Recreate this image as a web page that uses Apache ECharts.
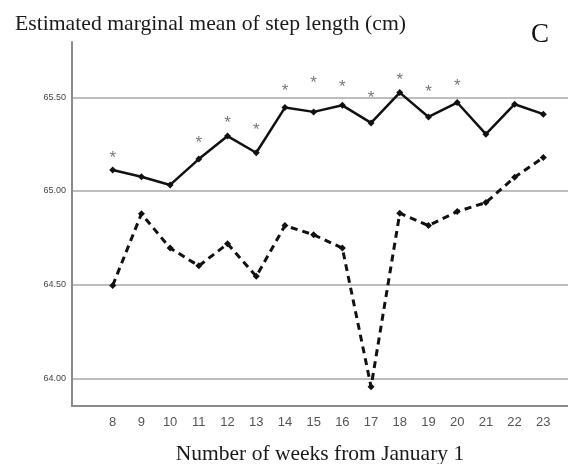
<!DOCTYPE html>
<html>
<head>
<meta charset="utf-8">
<script src="https://cdn.jsdelivr.net/npm/echarts@6/dist/echarts.min.js"></script>
<style>
html,body{margin:0;padding:0;background:#fff;}
#chart{width:568px;height:464px;}
</style>
</head>
<body>
<div id="chart"></div>
<script>
var weeks = [8, 9, 10, 11, 12, 13, 14, 15, 16, 17, 18, 19, 20, 21, 22, 23];
var solidValues = [65.112, 65.076, 65.032, 65.170, 65.293, 65.204, 65.445, 65.422, 65.457, 65.363, 65.525, 65.395, 65.472, 65.303, 65.463, 65.410];
var dashedValues = [64.495, 64.878, 64.695, 64.600, 64.718, 64.544, 64.815, 64.766, 64.695, 63.955, 64.881, 64.815, 64.890, 64.938, 65.073, 65.179];
var starWeeks = [8, 11, 12, 13, 14, 15, 16, 17, 18, 19, 20];
var starValues = [65.202, 65.282, 65.388, 65.351, 65.559, 65.601, 65.580, 65.521, 65.617, 65.553, 65.585];
var yTicks = [64.00, 64.50, 65.00, 65.50];

function pairs(xs, ys) { return xs.map(function (x, i) { return [x, ys[i]]; }); }

var chart = echarts.init(document.getElementById('chart'), null, {renderer: 'canvas'});
chart.setOption({
  animation: false,
  backgroundColor: '#ffffff',
  title: [
    {text: 'Estimated marginal mean of step length (cm)', left: 10, top: 8,
     textStyle: {fontFamily: 'Liberation Serif', fontSize: 21.7, fontWeight: 'normal', color: '#1a1a1a'}},
    {text: 'C', left: 526, top: 16,
     textStyle: {fontFamily: 'Liberation Serif', fontSize: 27, fontWeight: 'normal', color: '#111'}}
  ],
  grid: {left: 72, right: 0, top: 42, bottom: 58, containLabel: false, outerBoundsMode: 'none'},
  xAxis: {
    type: 'value', min: 6.582, max: 23.86,
    name: 'Number of weeks from January 1', nameLocation: 'middle', nameGap: 37,
    nameTextStyle: {fontFamily: 'Liberation Serif', fontSize: 21.5, color: '#1a1a1a'},
    axisLine: {show: true, lineStyle: {color: '#8a8a8a', width: 2}},
    axisTick: {show: false, customValues: weeks},
    axisLabel: {customValues: weeks, fontFamily: 'Liberation Sans', fontSize: 13, color: '#555', margin: 10},
    splitLine: {show: false}
  },
  yAxis: {
    type: 'value', min: 63.852, max: 65.795,
    axisLine: {show: true, lineStyle: {color: '#8a8a8a', width: 2}},
    axisTick: {show: false, customValues: yTicks},
    axisLabel: {customValues: yTicks, formatter: function (v) { return v.toFixed(2); },
      fontFamily: 'Liberation Sans', fontSize: 9, color: '#444', margin: 6},
    splitLine: {show: true, lineStyle: {color: '#bdbdbd', width: 2}}
  },
  series: [
    {type: 'line', data: pairs(weeks, solidValues), symbol: 'diamond', symbolSize: 7,
     lineStyle: {color: '#111', width: 2.5}, itemStyle: {color: '#111'}, z: 5},
    {type: 'line', data: pairs(weeks, dashedValues), symbol: 'diamond', symbolSize: 7,
     lineStyle: {color: '#111', width: 3, type: [7, 5]}, itemStyle: {color: '#111'}, z: 5},
    {type: 'scatter', data: pairs(starWeeks, starValues), symbolSize: 1,
     itemStyle: {color: 'rgba(0,0,0,0)'},
     label: {show: true, position: 'inside', formatter: '*', fontFamily: 'Liberation Sans',
       fontSize: 17, color: '#555', offset: [0, 5]}, z: 6}
  ]
});
</script>
</body>
</html>
